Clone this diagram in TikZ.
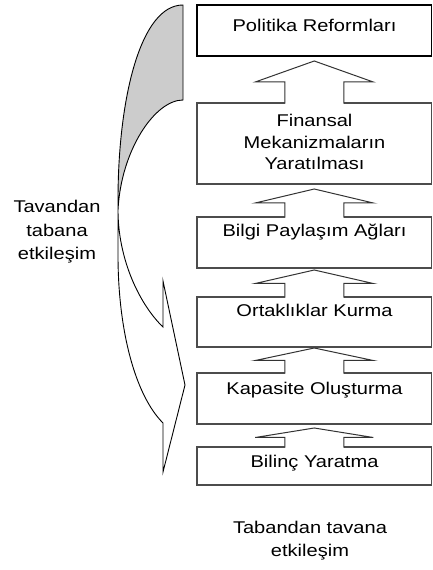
\documentclass[tikz,border=0pt]{standalone}
\usepackage{fontspec}
\setmainfont{Liberation Sans}[FakeStretch=1.18]
\usetikzlibrary{calc}

\begin{document}
\begin{tikzpicture}[x=1pt,y=1pt,
  every node/.style={font=\fontsize{17}{21.5}\selectfont},
  stage/.style={draw=black!70,line width=1.3pt,minimum width=234.5pt,inner sep=0pt,outer sep=0pt},
  stagetext/.style={anchor=base,inner sep=0pt},
  flowarrow/.style={draw=black!80,line width=1pt,line join=miter}]
  \useasboundingbox (0,0) rectangle (433,570);

  % curved arrow on the left
  \fill[gray!40] (183,565) -- (183,470) .. controls (155,470) and (121,420) .. (118,360)
    -- (118,370) .. controls (118,470) and (140,565) .. (183,565) -- cycle;
  \draw[line width=0.9pt] (183,565) .. controls (140,565) and (118,470) .. (118,370) -- (118,315)
    .. controls (118,240) and (135,175) .. (163,147) -- (163,98) -- (185,185) -- (163,289) -- (163,243)
    .. controls (140,265) and (118,310) .. (118,360) .. controls (121,420) and (155,470) .. (183,470) -- cycle;

  % stages
  \node[stage,draw=black,line width=1.5pt,minimum height=51pt](reform) at (314.25,539.5){};
  \node[stage,minimum height=81pt](finans) at (314.25,426.5){};
  \node[stage,minimum height=51pt](bilgi) at (314.25,327.5){};
  \node[stage,minimum height=50pt](ortak) at (314.25,248){};
  \node[stage,minimum height=51pt](kapasite) at (314.25,171.5){};
  \node[stage,minimum height=38pt](bilinc) at (314.25,104){};

  % block arrows between the stages
  \foreach \upper/\lower/\gap in {reform/finans/5,finans/bilgi/5,bilgi/ortak/2,ortak/kapasite/1,kapasite/bilinc/4}{
    \coordinate (tip) at ($(\upper.south)+(0,-\gap)$);
    \coordinate (foot) at (\lower.north);
    \coordinate (neck) at ($(foot)!0.5!(tip)$);
    \fill[white] ($(foot)+(-29.5,-1)$) -- ($(neck)+(-29.5,0)$) -- ($(neck)+(-59,0)$) -- (tip)
      -- ($(neck)+(59,0)$) -- ($(neck)+(29.5,0)$) -- ($(foot)+(29.5,-1)$) -- cycle;
    \draw[flowarrow] ($(foot)+(-29.5,-0.6)$) -- ($(neck)+(-29.5,0)$) -- ($(neck)+(-59,0)$) -- (tip)
      -- ($(neck)+(59,0)$) -- ($(neck)+(29.5,0)$) -- ($(foot)+(29.5,-0.6)$);
  }

  \node[stagetext](reformtxt) at (314.5,538){Politika Reformları};
  \node[align=center,inner sep=0pt](finanstxt) at (314.5,427.7){Finansal\\Mekanizmaların\\Yaratılması};
  \node[stagetext](bilgitxt) at (314.5,333){Bilgi Paylaşım Ağları};
  \node[stagetext](ortaktxt) at (314.5,253){Ortaklıklar Kurma};
  \node[stagetext](kapasitetxt) at (314.5,175){Kapasite Oluşturma};
  \node[stagetext](bilinctxt) at (314.5,102){Bilinç Yaratma};

  \node[align=center,inner sep=0pt,font=\fontsize{17}{23.5}\selectfont](topdown) at (57,338){Tavandan\\tabana\\etkileşim};
  \node[align=center,inner sep=0pt,font=\fontsize{17}{23}\selectfont](bottomup) at (310,29){Tabandan tavana\\etkileşim};
\end{tikzpicture}
\end{document}
